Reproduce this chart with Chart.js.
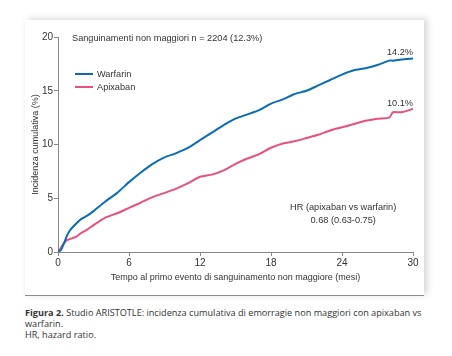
<!DOCTYPE html>
<html><head><meta charset="utf-8">
<script src="https://cdn.jsdelivr.net/npm/chart.js@4"></script>
<style>
html,body{margin:0;padding:0;background:#fff;width:452px;height:356px;overflow:hidden;}
#panel{position:absolute;left:25px;top:20px;width:399px;height:275px;background:#fff;
 box-shadow:3px -1px 7px rgba(0,0,0,0.18);}
#sep{position:absolute;left:25px;top:295px;width:399px;height:1px;background:#8c8c8c;}
#cv{position:absolute;left:25px;top:20px;}
#cap{position:absolute;left:25px;top:307px;width:404px;font-family:"Open Sans",sans-serif;font-size:9.15px;line-height:11px;color:#333;}
</style></head><body>
<div id="panel"></div>
<div id="sep"></div>
<canvas id="cv" width="399" height="275"></canvas>
<div id="cap"><b>Figura 2.</b> Studio ARISTOTLE: incidenza cumulativa di emorragie non maggiori con apixaban vs warfarin.<br>HR, hazard ratio.</div>
<script>
const months = [0,0.25,0.5,0.75,1,1.5,2,2.5,3,4,5,6,7,8,9,10,11,12,13,14,15,16,17,18,19,20,21,22,23,24,25,26,27,28,28.3,29,30];
const warfarin = [0,0.2,0.8,1.5,2.0,2.6,3.1,3.4,3.8,4.7,5.5,6.5,7.4,8.2,8.8,9.2,9.7,10.4,11.1,11.8,12.4,12.8,13.2,13.8,14.2,14.7,15.0,15.5,16.0,16.5,16.9,17.1,17.4,17.8,17.8,17.9,18.0];
const apixaban = [0,0.4,0.8,1.1,1.2,1.4,1.8,2.1,2.5,3.2,3.6,4.1,4.6,5.1,5.5,5.9,6.4,7.0,7.2,7.6,8.2,8.7,9.1,9.7,10.1,10.3,10.6,10.9,11.3,11.6,11.9,12.2,12.4,12.5,13.0,13.0,13.3];
const seriesNames = ["Warfarin","Apixaban"];
const endLabels = ["14.2%","10.1%"];
const xTicks = [0,6,12,18,24,30];
const yTicks = [0,5,10,15,20];
const titleText = "Sanguinamenti non maggiori n = 2204 (12.3%)";
const hrLines = ["HR (apixaban vs warfarin)","0.68 (0.63-0.75)"];
const colors = ["#0a6cb8","#e9507f"];

const FONT = '"Liberation Sans", Arial, sans-serif';
const txtColor = '#333';

const overlay = {
  id:'overlay',
  afterDatasetsDraw(chart){
    const {ctx, chartArea:a, scales:{x,y}} = chart;
    ctx.save();
    ctx.font = '9.2px ' + FONT;
    ctx.fillStyle = txtColor;
    ctx.textBaseline = 'middle';
    ctx.textAlign = 'left';
    ctx.fillText(titleText, a.left + 14, y.getPixelForValue(20) + 1);
    // legend
    seriesNames.forEach((n,i)=>{
      const yy = a.top + 37 + i*13;
      ctx.strokeStyle = colors[i]; ctx.lineWidth = 2;
      ctx.beginPath(); ctx.moveTo(a.left+17, yy); ctx.lineTo(a.left+35, yy); ctx.stroke();
      ctx.fillText(n, a.left+39, yy);
    });
    // end labels
    ctx.textAlign = 'right';
    const ds = [warfarin, apixaban];
    ds.forEach((d,i)=>{
      ctx.fillText(endLabels[i], x.getPixelForValue(30), y.getPixelForValue(d[d.length-1]) - 6);
    });
    // HR
    ctx.textAlign = 'center';
    hrLines.forEach((t,i)=>ctx.fillText(t, x.getPixelForValue(24.1), y.getPixelForValue(4.1) + i*13));
    ctx.restore();
  }
};

new Chart(document.getElementById('cv'), {
  type:'line',
  data:{
    datasets:[
      {label:seriesNames[0], data:months.map((m,i)=>({x:m,y:warfarin[i]})), borderColor:colors[0], borderWidth:2, pointRadius:0, tension:0.2, fill:false},
      {label:seriesNames[1], data:months.map((m,i)=>({x:m,y:apixaban[i]})), borderColor:colors[1], borderWidth:2, pointRadius:0, tension:0.2, fill:false}
    ]
  },
  options:{
    responsive:false, animation:false, devicePixelRatio:1,
    layout:{padding:{left:5,top:17,right:11,bottom:12}},
    plugins:{legend:{display:false}, tooltip:{enabled:false}},
    scales:{
      x:{type:'linear', min:0, max:30,
        afterBuildTicks(s){ s.ticks = xTicks.map(v=>({value:v})); },
        afterFit(s){ s.height = 31; },
        grid:{drawOnChartArea:false, drawTicks:true, tickLength:4, color:'#888', lineWidth:1},
        border:{display:true, color:'#888', width:1},
        ticks:{padding:1, color:txtColor, font:{family:FONT, size:10}, maxRotation:0},
        title:{display:true, text:'Tempo al primo evento di sanguinamento non maggiore (mesi)', color:txtColor, font:{family:FONT, size:9}, padding:0}
      },
      y:{type:'linear', min:0, max:20,
        afterBuildTicks(s){ s.ticks = yTicks.map(v=>({value:v})); },
        afterFit(s){ s.width = 28; },
        grid:{drawOnChartArea:false, drawTicks:true, tickLength:4, color:'#888', lineWidth:1},
        border:{display:true, color:'#888', width:1},
        ticks:{padding:1, color:txtColor, font:{family:FONT, size:10}},
        title:{display:true, text:'Incidenza cumulativa (%)', color:txtColor, font:{family:FONT, size:9}, padding:0}
      }
    }
  },
  plugins:[overlay]
});
</script>
</body></html>
